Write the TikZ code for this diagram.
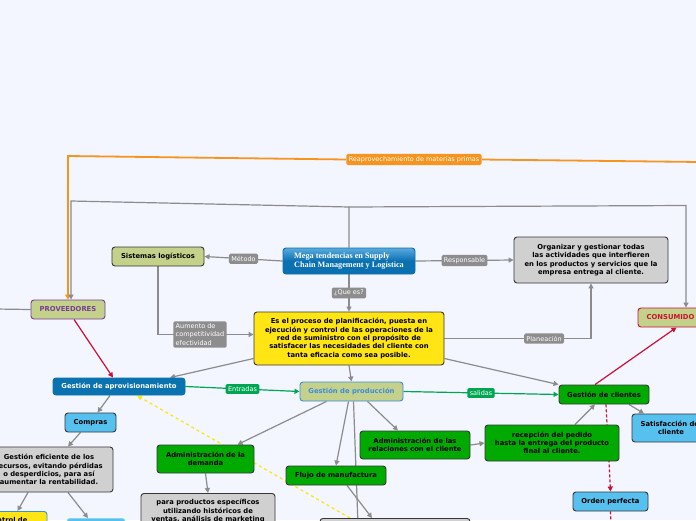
\documentclass[tikz,border=0pt]{standalone}
\usepackage{fontspec}
\setmainfont{DejaVu Sans}
\newfontfamily\megafont{Liberation Serif}
\usetikzlibrary{arrows.meta}
\pgfdeclarelayer{back}
\pgfdeclarelayer{wires}
\pgfsetlayers{back,wires,main}
\definecolor{bgblue}{RGB}{243,245,255}
\definecolor{linegrey}{RGB}{140,140,140}
\definecolor{taggrey}{RGB}{141,141,141}
\definecolor{boxline}{RGB}{55,55,55}
\definecolor{olive}{RGB}{195,209,139}
\definecolor{boxgrey}{RGB}{208,208,208}
\definecolor{boxyellow}{RGB}{255,229,20}
\definecolor{boxgreen}{RGB}{0,170,0}
\definecolor{taggreen}{RGB}{0,166,81}
\definecolor{skyblue}{RGB}{86,193,238}
\definecolor{aprovblue}{RGB}{11,114,176}
\definecolor{megatop}{RGB}{90,170,222}
\definecolor{megabot}{RGB}{10,112,176}
\definecolor{prodblue}{RGB}{60,140,225}
\definecolor{linkred}{RGB}{204,16,51}
\definecolor{reorange}{RGB}{247,148,29}
\definecolor{provpurple}{RGB}{120,60,150}

\begin{document}
\begin{tikzpicture}[x=1pt, y=-1pt,
  box/.style={draw=boxline, line width=0.9pt, rounded corners=3pt, align=center,
    inner sep=1pt, font=\fontsize{6.8}{8.3}\selectfont\bfseries},
  tag/.style={fill=taggrey, text=white, rounded corners=1.5pt, inner sep=2.4pt,
    align=left, font=\fontsize{6.5}{8.2}\selectfont},
  gtag/.style={tag, fill=taggreen},
  link/.style={draw=linegrey, line width=1.2pt, -{Triangle[length=5pt,width=5pt]}},
  glink/.style={link, draw=taggreen, -{Triangle[length=5pt,width=5pt]}},
  rlink/.style={link, draw=linkred},
]

\useasboundingbox (0,0) rectangle (696,520);
\begin{pgfonlayer}{back}
\fill[bgblue] (0,0) rectangle (696,520);
\end{pgfonlayer}

% Central node
\node[box, draw=megabot, top color=megatop, bottom color=megabot, middle color=megabot,
  text=white, align=left, minimum width=132pt, minimum height=26pt,
  font=\megafont\bfseries\fontsize{8.2}{8.8}\selectfont] (mega) at (349,261)
  {Mega tendencias en Supply\\Chain Management y Logística};

% Upper row
\node[box, fill=olive, minimum width=92pt, minimum height=19pt] (sist) at (158,256.5) {Sistemas logísticos};
\node[box, fill=boxgrey, minimum width=154pt, minimum height=46pt] (org) at (591,260)
  {Organizar y gestionar todas\\las actividades que interfieren\\en los productos y servicios que la\\empresa entrega al cliente.};
\node[box, fill=boxyellow, minimum width=190pt, minimum height=53pt] (proc) at (349,338.5)
  {Es el proceso de planificación, puesta en\\ejecución y control de las operaciones de la\\red de suministro con el propósito de\\satisfacer las necesidades del cliente con\\tanta eficacia como sea posible.};
\node[tag, fill=reorange] (reap) at (414,159.5) {Reaprovechamiento de materias primas};

% Ends of the chain
\node[box, fill=olive, draw=provpurple, text=provpurple, minimum width=74pt, minimum height=19pt] (prov) at (68,309.5) {PROVEEDORES};
\node[box, fill=olive, draw=linkred, text=linkred, minimum width=65pt, minimum height=19pt] (cons) at (670.5,317.5) {CONSUMIDO};

% Middle row
\node[box, fill=aprovblue, draw=aprovblue, text=white, minimum width=132pt, minimum height=17pt] (aprov) at (119,386.5) {Gestión de aprovisionamiento};
\node[box, fill=olive, draw=prodblue, text=prodblue, minimum width=103pt, minimum height=19pt] (prod) at (351.5,391.5) {Gestión de producción};
\node[box, fill=boxgreen, minimum width=90pt, minimum height=19pt] (cli) at (604,394.5) {Gestión de clientes};

% Lower part
\node[box, fill=skyblue, minimum width=51pt, minimum height=19pt] (comp) at (90.5,422.5) {Compras};
\node[box, fill=boxgrey, minimum width=128pt, minimum height=45pt] (efic) at (49,469.5)
  {Gestión eficiente de los\\recursos, evitando pérdidas\\o desperdicios, para así\\aumentar la rentabilidad.};
\node[box, fill=boxyellow, draw=prodblue, anchor=north, minimum width=79pt, minimum height=30pt, text depth=14pt] (ctrl) at (7.5,511) {Control de};
\node[box, fill=skyblue, draw=skyblue!70!white, anchor=north, minimum width=58pt, minimum height=20pt] (lb) at (96,518) {};
\node[box, fill=boxgreen, minimum width=97pt, minimum height=28pt] (dem) at (205.5,459) {Administración de la\\demanda};
\node[box, fill=boxgrey, anchor=north, minimum width=134pt, inner ysep=6pt, text depth=14pt] (prods) at (208,493)
  {para productos específicos\\utilizando históricos de\\ventas, análisis de marketing};
\node[box, fill=boxgreen, minimum width=100pt, minimum height=19pt] (flujo) at (336,475.5) {Flujo de manufactura};
\node[box, fill=boxgrey, anchor=north, minimum width=150pt, minimum height=20pt] (low) at (395,518) {};
\node[box, fill=boxgreen, minimum width=110pt, minimum height=28pt] (admrel) at (415,445) {Administración de las\\relaciones con el cliente};
\node[box, fill=boxgreen, minimum width=134pt, minimum height=36pt] (recep) at (552,443)
  {recepción del pedido\\hasta la entrega del producto\\final al cliente.};
\node[box, fill=skyblue, minimum width=78pt, minimum height=28pt] (sat) at (671,428) {Satisfacción del\\cliente};
\node[box, fill=skyblue, minimum width=75pt, minimum height=19pt] (orden) at (610.5,501.5) {Orden perfecta};

% Free ends
\coordinate (topL) at (71,201);
\coordinate (topM) at (349,207);
\coordinate (topR) at (686,205.5);
\coordinate (orL) at (68,156);
\coordinate (orR) at (700,162);
\coordinate (offL) at (-5,309);
\coordinate (offD) at (358,525);
\coordinate (offO) at (611,525);

% Connectors
\begin{pgfonlayer}{wires}
\draw[link, draw=reorange, line width=1.8pt, -{Triangle[length=5pt,width=6pt]}] (reap.west) -- (orL) -- (orL |- prov.north);
\draw[draw=reorange, line width=1.8pt] (reap.east) -- (orR);
\draw[link] (mega.north) -- (topM) -- (topL) -- (topL |- prov.north);
\draw[link] (topM) -- (topR) -- (topR |- cons.north);
\draw[draw=linegrey, line width=1.2pt] (offL) -- (prov.west);
\draw[link] (mega.west) -- node[tag] {Método} (sist.east);
\draw[link] (mega.east) -- node[tag] {Responsable} (org.west);
\draw[link] (mega.south) -- node[tag] {¿Que es?} (proc.north);
\draw[link] (sist.south) |- node[tag, pos=0.72] {Aumento de\\competitividad\\efectividad} ([yshift=4pt]proc.west);
\draw[link] (proc.east) -| node[tag, pos=0.34] {Planeación} (org.south);
\draw[link] ([yshift=-20pt]proc.west) -- ([xshift=51pt]aprov.north);
\draw[link] (proc.south) -- (prod.north);
\draw[link] ([yshift=-20pt]proc.east) -- (cli.north west);
\draw[rlink] ([xshift=6pt]prov.south) -- ([xshift=-6pt]aprov.north);
\draw[glink] (aprov.east) -- node[gtag] {Entradas} (prod.west);
\draw[glink] (prod.east) -- node[gtag] {salidas} (cli.west);
\draw[rlink] ([xshift=-9pt]cli.north) -- ([xshift=6pt]cons.south);
\draw[link] ([xshift=25pt]cli.south) -- ([xshift=-27pt]sat.north);
\draw[rlink, densely dashed] ([xshift=2pt]cli.south) -- (orden.north);
\draw[draw=linkred, line width=1.2pt, densely dashed] (orden.south) -- (offO);
\draw[link] ([xshift=23pt]recep.north) -- ([xshift=-9pt]cli.south);
\draw[link] (admrel.east) -- (recep.west);
\draw[link] ([xshift=16pt]prod.south) -- ([xshift=-17pt]admrel.north);
\draw[link] ([xshift=-25pt]prod.south) -- ([xshift=32pt]dem.north);
\draw[link] ([xshift=-3pt]prod.south) -- (flujo.north);
\draw[draw=linegrey, line width=1.2pt] ([xshift=2pt]prod.south) -- (offD);
\draw[link] ([xshift=11pt]flujo.south) -- ([xshift=-23pt]low.north);
\draw[link, draw=yellow!90!orange, dashed, -{Triangle[length=5pt,width=5pt]}] ([xshift=-45pt]low.north) -- ([xshift=18pt]aprov.south);
\draw[link] (dem.south) -- (prods.north);
\draw[link] ([xshift=-9pt]aprov.south) -- ([xshift=7pt]comp.north);
\draw[link] ([xshift=-10pt]comp.south) -- ([xshift=19pt]efic.north);
\draw[link] ([xshift=-21pt]efic.south) -- ([xshift=10pt]ctrl.north);
\draw[link] ([xshift=19pt]efic.south) -- ([xshift=-8pt]lb.north);
\end{pgfonlayer}

\end{tikzpicture}
\end{document}
